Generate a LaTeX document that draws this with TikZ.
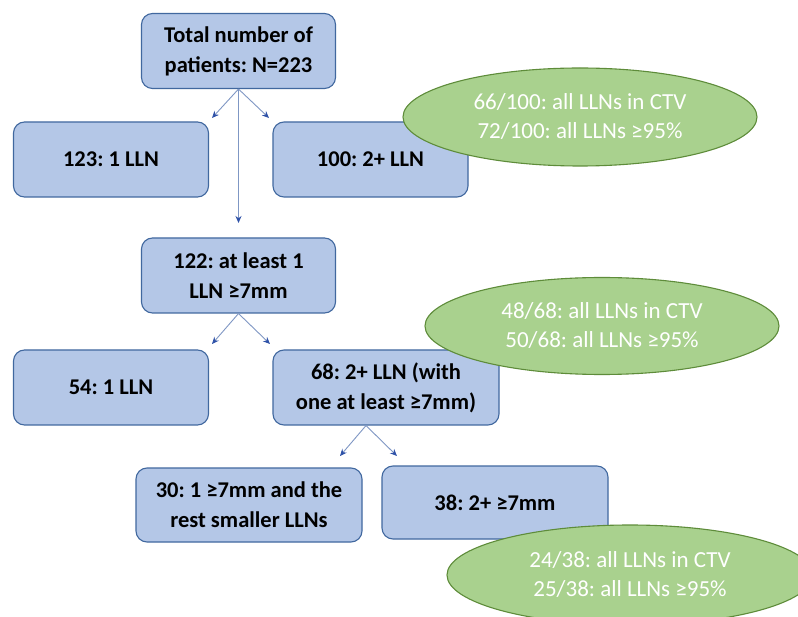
\documentclass[tikz,border=0pt]{standalone}
\usepackage{fontspec}
\setmainfont{Carlito}
\usetikzlibrary{shapes.geometric,arrows.meta}
\definecolor{boxfill}{HTML}{B4C7E7}
\definecolor{boxline}{HTML}{41689F}
\definecolor{ellfill}{HTML}{A9D18E}
\definecolor{ellline}{HTML}{5E8C3A}
\definecolor{arrowc}{HTML}{7F97C4}
\definecolor{headc}{HTML}{2F52A8}
\frenchspacing
\begin{document}
\begin{tikzpicture}[x=1pt,y=-1pt,
  box/.style={draw=boxline, fill=boxfill, rounded corners=11pt, line width=1.1pt,
    align=center, inner sep=0pt, text=black, font=\fontsize{22.5}{30}\selectfont\bfseries},
  ell/.style={ellipse, draw=ellline, fill=ellfill, line width=1.1pt, align=center,
    inner sep=0pt, text=white, font=\fontsize{23}{29}\selectfont},
  conn/.style={draw=arrowc, line width=0.9pt,
    -{Stealth[length=7pt,width=6pt,fill=headc,color=headc]}}]
\useasboundingbox (0,0) rectangle (798,617);
\fill[white] (0,0) rectangle (798,617);

\node[box, minimum width=194pt, minimum height=75pt] (total) at (238.5,51) {Total number of\\patients: N=223};
\node[box, minimum width=195pt, minimum height=75pt] (one) at (111,159.5) {123: 1 LLN};
\node[box, minimum width=195pt, minimum height=75pt] (two) at (370.5,159.5) {100: 2+ LLN};
\node[box, minimum width=194pt, minimum height=75pt] (seven) at (238.5,275.5) {122: at least 1\\LLN ≥7mm};
\node[box, minimum width=195pt, minimum height=75pt] (sone) at (111,387.5) {54: 1 LLN};
\node[box, minimum width=226pt, minimum height=75pt] (stwo) at (386,387.5) {68: 2+ LLN (with\\one at least ≥7mm)};
\node[box, minimum width=226pt, minimum height=74pt] (rest) at (249,505) {30: 1 ≥7mm and the\\rest smaller LLNs};
\node[box, minimum width=226pt, minimum height=73pt] (many) at (495,502.5) {38: 2+ ≥7mm};

\node[ell, minimum width=354pt, minimum height=98pt] (e1) at (580,117) {66/100: all LLNs in CTV\\72/100: all LLNs ≥95\%};
\node[ell, minimum width=354pt, minimum height=97pt] (e2) at (602,326) {48/68: all LLNs in CTV\\50/68: all LLNs ≥95\%};
\node[ell, minimum width=366pt, minimum height=100pt] (e3) at (630,575) {24/38: all LLNs in CTV\\25/38: all LLNs ≥95\%};

\coordinate (a1) at (212,118);
\coordinate (a2) at (269,118);
\coordinate (a3) at (238.5,223);
\coordinate (b1) at (212,344);
\coordinate (b2) at (270,344);
\coordinate (c1) at (340,456);
\coordinate (c2) at (397,456);

\draw[conn] (total.south) -- (a1);
\draw[conn] (total.south) -- (a2);
\draw[conn] (total.south) -- (a3);
\draw[conn] (seven.south) -- (b1);
\draw[conn] (seven.south) -- (b2);
\draw[conn] ([xshift=-20pt]stwo.south) -- (c1);
\draw[conn] ([xshift=-20pt]stwo.south) -- (c2);
\end{tikzpicture}
\end{document}
